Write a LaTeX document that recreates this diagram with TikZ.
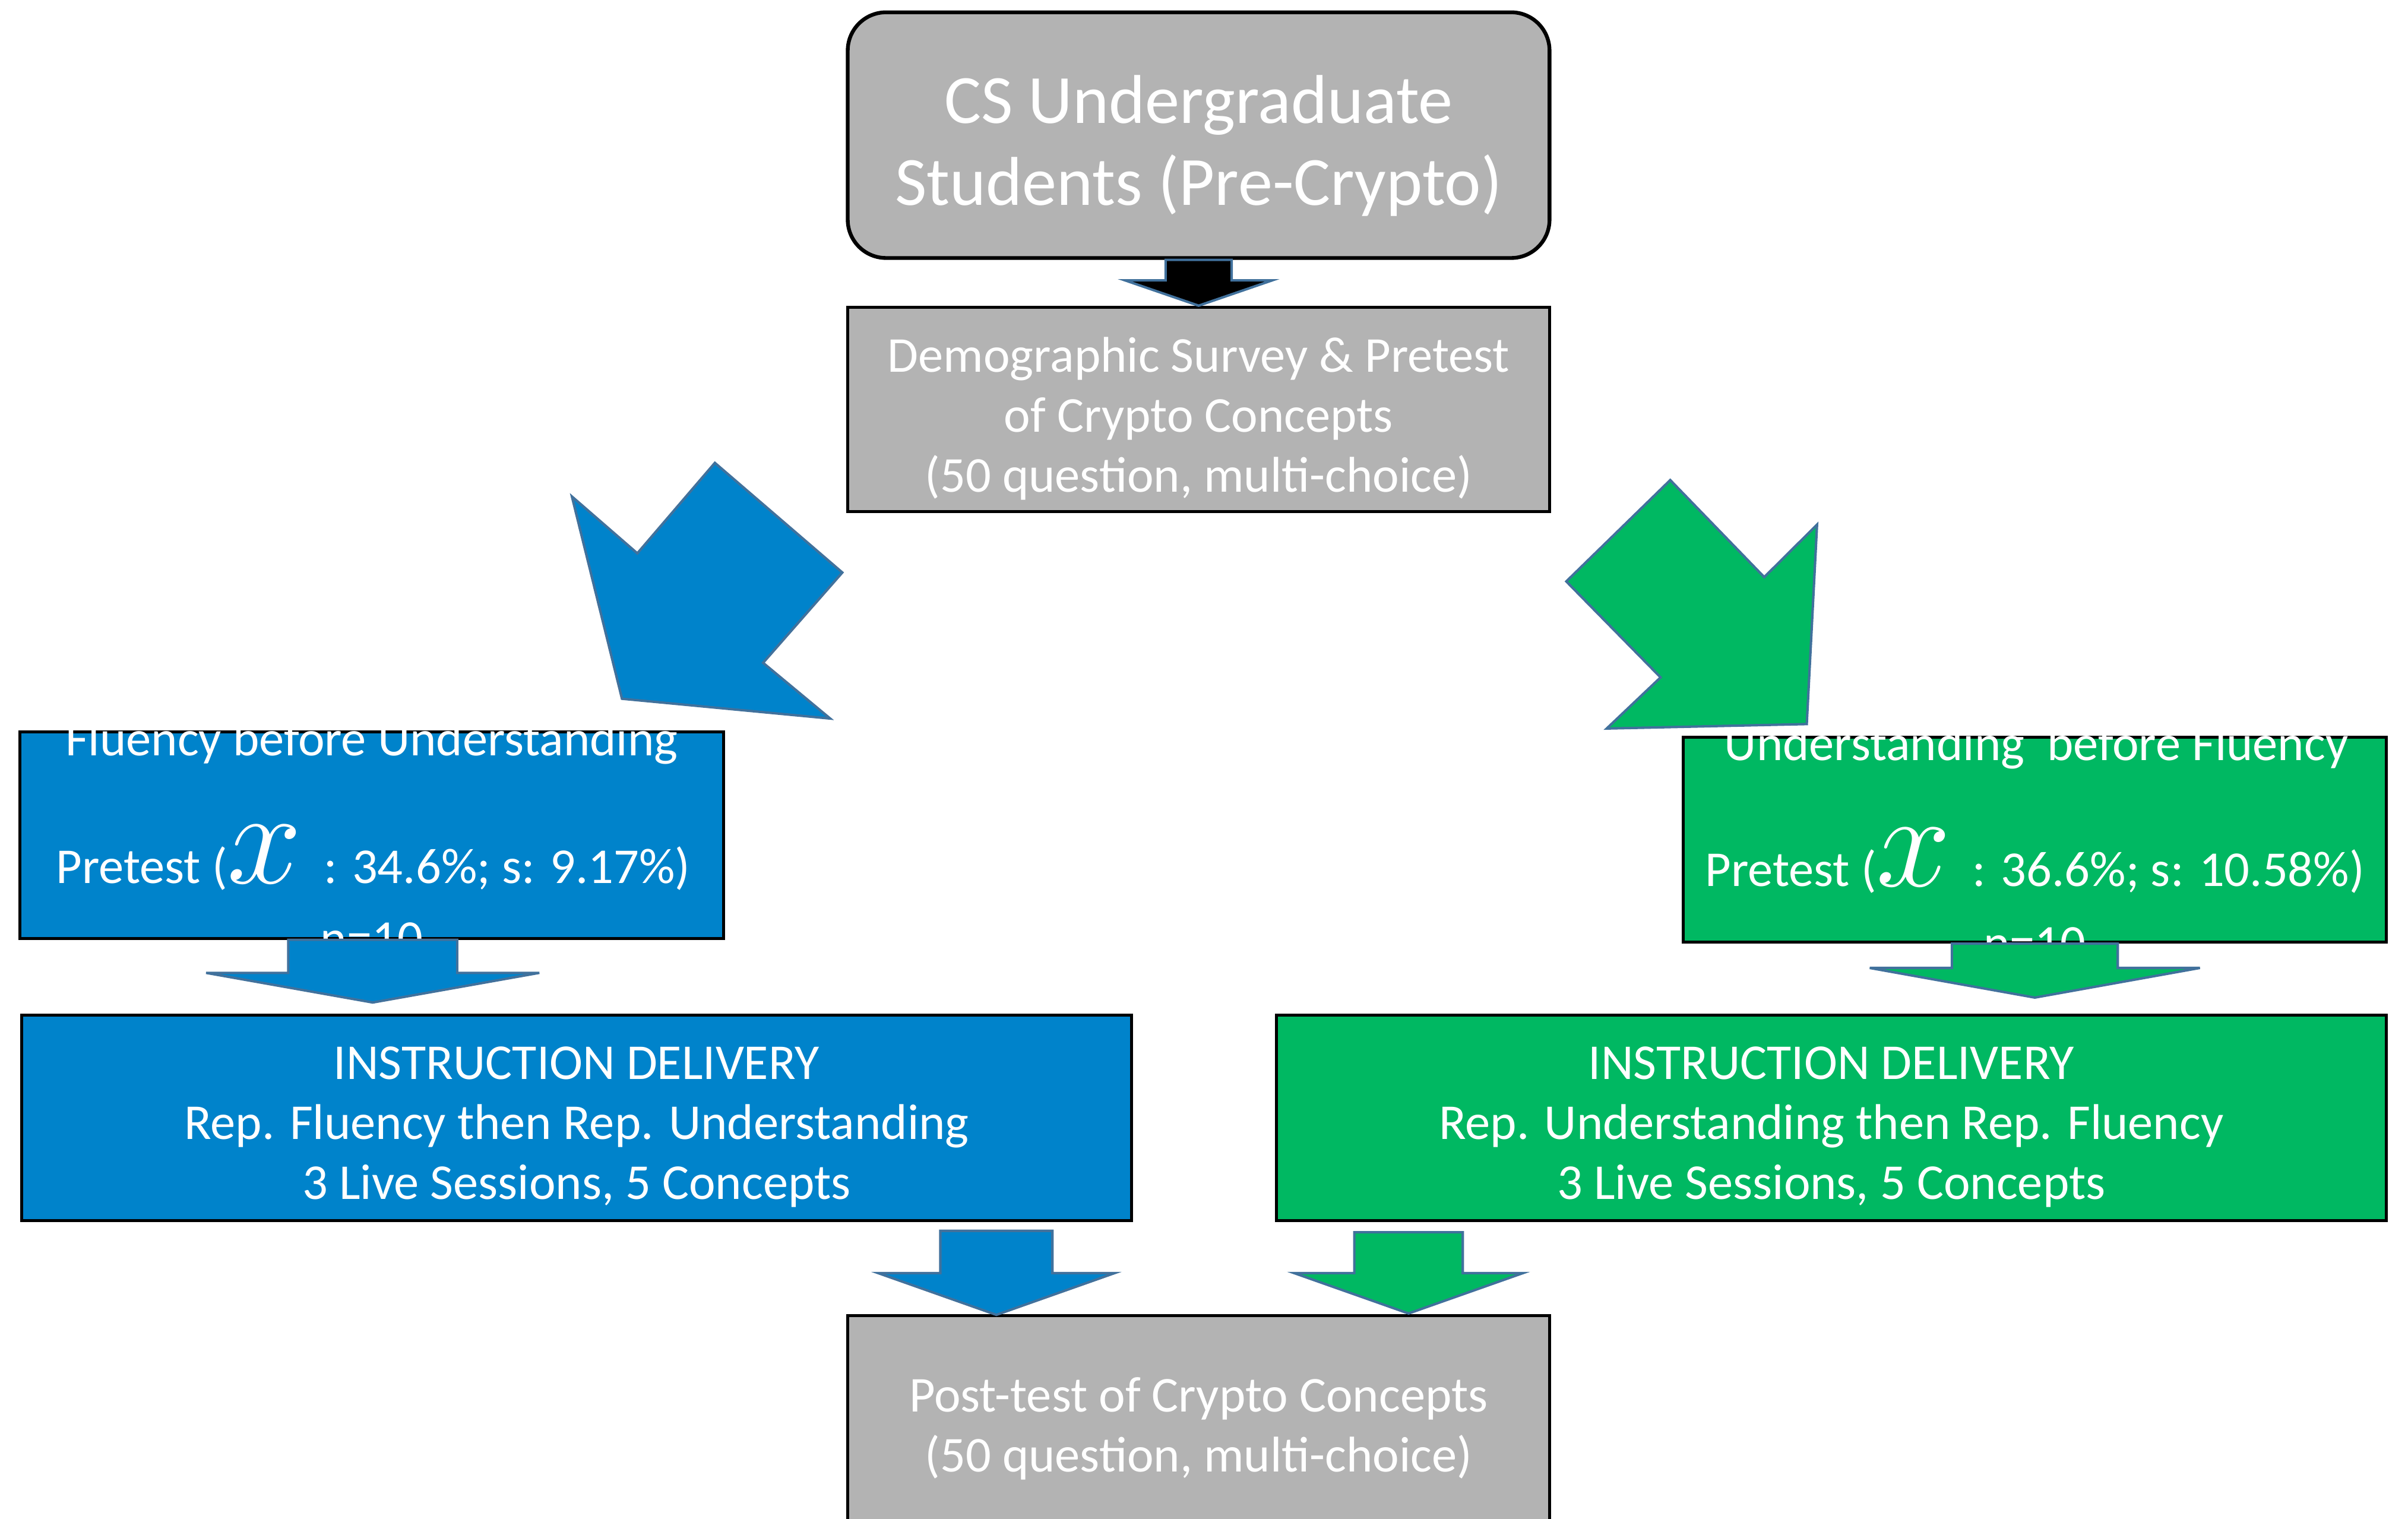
\documentclass[tikz,border=0pt]{standalone}
\usepackage{fontspec}
\setmainfont{Carlito}
\usepackage{tikz}
\usetikzlibrary{calc}

\definecolor{boxgray}{RGB}{179,179,179}
\definecolor{fbublue}{RGB}{0,131,203}
\definecolor{ubfgreen}{RGB}{0,184,98}
\definecolor{arrowline}{RGB}{65,113,156}

% block arrow pointing down: style, top, tip, shaft half width, head half width, head height
\newcommand{\downblock}[6]{%
\draw[#1] ($(#3 |- #2)+(-#4,0)$) -- ($(#3 |- #2)+(#4,0)$) -- ($(#3)+(#4,-#6)$) -- ($(#3)+(#5,-#6)$)
  -- (#3) -- ($(#3)+(-#5,-#6)$) -- ($(#3)+(-#4,-#6)$) -- cycle;}
\newcommand{\meanx}{{\fontsize{24}{24}\selectfont$x$}}

\begin{document}
\begin{tikzpicture}[x=0.1mm,y=-0.1mm,
  box/.style={draw=black,line width=0.55pt,minimum width=45.7mm,minimum height=13.3mm,inner sep=0pt},
  boxtext/.style={text=white,align=center,inner sep=0pt,font=\fontsize{9.3}{11.1}\selectfont},
  grouptext/.style={text=white,anchor=base,inner sep=0pt,font=\fontsize{9.3}{11.1}\selectfont},
  blockarrow/.style={draw=arrowline,line width=0.45pt}]
\useasboundingbox (0,0) rectangle (1568,989);

% Students and pretest
\node[box,fill=boxgray,rounded corners=2.5mm,line width=0.7pt,minimum height=16mm] (start) at (780.5,88) {};
\node[boxtext,font=\fontsize{12.8}{15.2}\selectfont] (start-text) at ($(start)+(0,7)$) {CS Undergraduate\\Students (Pre-Crypto)};
\node[box,fill=boxgray] (survey) at (780.5,266.5) {};
\node[boxtext] (survey-text) at ($(survey)+(0,6)$) {Demographic Survey \& Pretest\\of Crypto Concepts\\(50 question, multi-choice)};

% Groups
\node[box,fill=fbublue,minimum width=45.8mm,minimum height=13.45mm] (fbu) at (242,543.75) {};
\node[grouptext] (fbu-name) at (242,492) {Fluency before Understanding};
\node[grouptext] (fbu-pre) at (243,575) {Pretest (\meanx\hspace{4pt}: 34.6\%; s: 9.17\%)};
\node[grouptext] (fbu-n) at (242,622) {n=10};

\node[box,fill=ubfgreen,minimum width=45.8mm,minimum height=13.35mm] (ubf) at (1325,546.75) {};
\node[grouptext] (ubf-name) at (1326,495) {Understanding~ before Fluency};
\node[grouptext] (ubf-pre) at (1325,577) {Pretest (\meanx\hspace{4pt}: 36.6\%; s: 10.58\%)};
\node[grouptext] (ubf-n) at (1325,625) {n=10};

% Instruction
\node[box,fill=fbublue,minimum width=72.3mm,minimum height=13.4mm] (deliverfbu) at (375.5,728) {};
\node[boxtext] (deliverfbu-text) at ($(deliverfbu)+(0,6)$)
  {INSTRUCTION DELIVERY\\Rep. Fluency then Rep. Understanding\\3 Live Sessions, 5 Concepts};
\node[box,fill=ubfgreen,minimum width=72.3mm,minimum height=13.4mm] (deliverubf) at (1192.5,728) {};
\node[boxtext] (deliverubf-text) at ($(deliverubf)+(0,6)$)
  {INSTRUCTION DELIVERY\\Rep. Understanding then Rep. Fluency\\3 Live Sessions, 5 Concepts};

% Post-test
\node[box,fill=boxgray,minimum height=14.05mm] (posttest) at (780.5,926.75) {};
\node[boxtext] (posttest-text) at ($(posttest)+(0,3.5)$) {Post-test of Crypto Concepts\\(50 question, multi-choice)};

% Arrows
\coordinate (fbutip) at (242.7,652.8);
\coordinate (ubftip) at (1325,649.6);
\coordinate (fbuout) at (648.8,801.5);
\coordinate (fbuin) at (648.8,856.2);
\coordinate (ubfout) at (917.2,802.4);
\coordinate (ubfin) at (917.2,855.3);

\downblock{blockarrow,fill=black}{start.south}{survey.north}{21.5}{48}{16.5}
\draw[blockarrow,fill=fbublue] (372.4,323.3) -- (415,360.3) -- (465.5,301.4) -- (548.5,372.8)
  -- (496.9,431.6) -- (540.6,467.9) -- (405,455) -- cycle;
\draw[blockarrow,fill=ubfgreen] (1087.6,312.6) -- (1148.8,375.8) -- (1183.2,341.6) -- (1176.5,471.5)
  -- (1046.2,474.4) -- (1081.3,441.1) -- (1019.9,378.6) -- cycle;
\downblock{blockarrow,fill=fbublue}{fbu.south}{fbutip}{55}{108.5}{19.3}
\downblock{blockarrow,fill=ubfgreen}{ubf.south}{ubftip}{54}{107.5}{19.3}
\downblock{blockarrow,fill=fbublue}{fbuout}{fbuin}{36.5}{77}{27.2}
\downblock{blockarrow,fill=ubfgreen}{ubfout}{ubfin}{35.3}{74.5}{26.3}
\end{tikzpicture}
\end{document}
